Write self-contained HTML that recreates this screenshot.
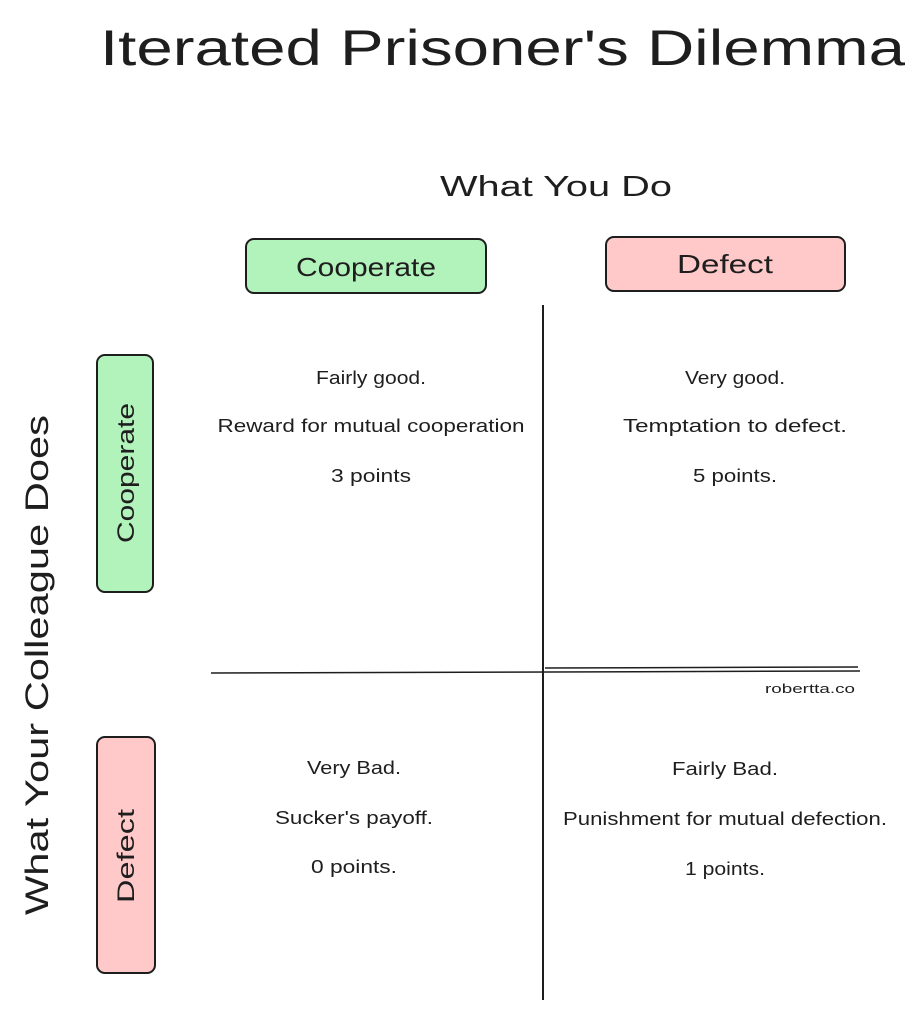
<!DOCTYPE html>
<html><head><meta charset="utf-8"><style>
html,body{margin:0;padding:0;background:#fff;}
svg{display:block;}
text{font-family:"Liberation Sans",sans-serif;fill:#1e1e1e;}
</style></head><body>
<svg width="917" height="1011" viewBox="0 0 917 1011" xmlns="http://www.w3.org/2000/svg">
<text x="100" y="65" font-size="50" textLength="805" lengthAdjust="spacingAndGlyphs">Iterated Prisoner's Dilemma</text>
<text x="440" y="196" font-size="29" textLength="232" lengthAdjust="spacingAndGlyphs">What You Do</text>
<rect x="246" y="239" width="240" height="54" rx="8" fill="#b2f2bb" stroke="#1e1e1e" stroke-width="2"/>
<text x="366" y="276" font-size="26" text-anchor="middle" textLength="140" lengthAdjust="spacingAndGlyphs">Cooperate</text>
<rect x="606" y="237" width="239" height="54" rx="8" fill="#ffc9c9" stroke="#1e1e1e" stroke-width="2"/>
<text x="725" y="273" font-size="26" text-anchor="middle" textLength="96" lengthAdjust="spacingAndGlyphs">Defect</text>
<line x1="543" y1="305" x2="543" y2="1000" stroke="#1e1e1e" stroke-width="2"/>
<line x1="211" y1="673" x2="860" y2="671" stroke="#1e1e1e" stroke-width="1.5"/>
<line x1="545" y1="668" x2="858" y2="667" stroke="#1e1e1e" stroke-width="1.5"/>
<text x="765" y="693" font-size="13" textLength="90" lengthAdjust="spacingAndGlyphs">robertta.co</text>
<rect x="97" y="355" width="56" height="237" rx="8" fill="#b2f2bb" stroke="#1e1e1e" stroke-width="2"/>
<text transform="translate(134,473) rotate(-90)" font-size="24" text-anchor="middle" textLength="140" lengthAdjust="spacingAndGlyphs">Cooperate</text>
<rect x="97" y="737" width="58" height="236" rx="8" fill="#ffc9c9" stroke="#1e1e1e" stroke-width="2"/>
<text transform="translate(134,856) rotate(-90)" font-size="24" text-anchor="middle" textLength="94" lengthAdjust="spacingAndGlyphs">Defect</text>
<text transform="translate(48,665) rotate(-90)" font-size="32" text-anchor="middle" textLength="500" lengthAdjust="spacingAndGlyphs">What Your Colleague Does</text>
<g font-size="18" text-anchor="middle">
<text x="371" y="384" textLength="110" lengthAdjust="spacingAndGlyphs">Fairly good.</text>
<text x="371" y="432" textLength="307" lengthAdjust="spacingAndGlyphs">Reward for mutual cooperation</text>
<text x="371" y="482" textLength="80" lengthAdjust="spacingAndGlyphs">3 points</text>
<text x="735" y="384" textLength="100" lengthAdjust="spacingAndGlyphs">Very good.</text>
<text x="735" y="432" textLength="224" lengthAdjust="spacingAndGlyphs">Temptation to defect.</text>
<text x="735" y="482" textLength="84" lengthAdjust="spacingAndGlyphs">5 points.</text>
<text x="354" y="774" textLength="94" lengthAdjust="spacingAndGlyphs">Very Bad.</text>
<text x="354" y="824" textLength="158" lengthAdjust="spacingAndGlyphs">Sucker's payoff.</text>
<text x="354" y="873" textLength="86" lengthAdjust="spacingAndGlyphs">0 points.</text>
<text x="725" y="775" textLength="106" lengthAdjust="spacingAndGlyphs">Fairly Bad.</text>
<text x="725" y="825" textLength="324" lengthAdjust="spacingAndGlyphs">Punishment for mutual defection.</text>
<text x="725" y="875" textLength="80" lengthAdjust="spacingAndGlyphs">1 points.</text>
</g>
</svg>
</body></html>
